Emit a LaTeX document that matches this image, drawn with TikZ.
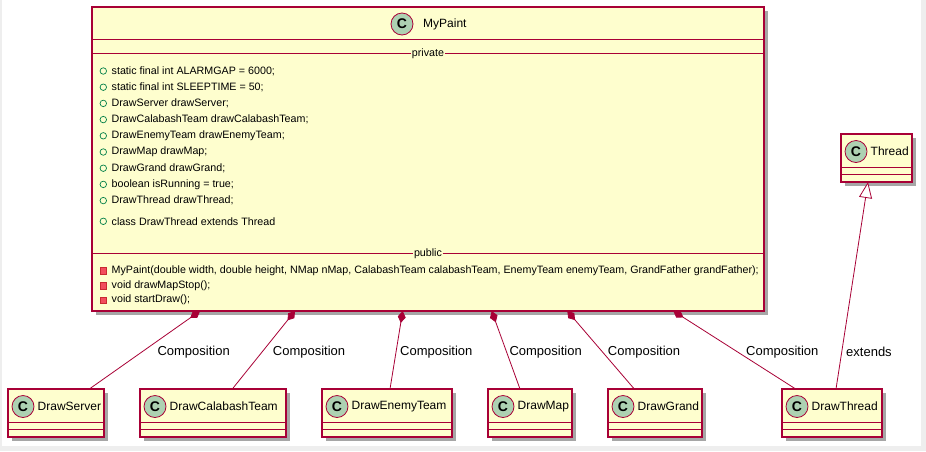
\documentclass[tikz,border=0pt]{standalone}
\usepackage{fontspec}
\setmainfont{Liberation Sans}
\usetikzlibrary{arrows.meta,calc,shadows}
\definecolor{umlfill}{HTML}{FEFECE}
\definecolor{umlborder}{HTML}{A80036}
\definecolor{circfill}{HTML}{ADD1B2}
\definecolor{attrgreen}{HTML}{038048}
\definecolor{methred}{HTML}{F24D5C}
\definecolor{methborder}{HTML}{C82930}
\definecolor{framegray}{HTML}{EEEEEE}

\tikzset{
 cls/.style={draw=umlborder, fill=umlfill, line width=1.2pt, inner sep=0pt, outer sep=0pt,
   drop shadow={shadow xshift=3.5pt, shadow yshift=-3.5pt, opacity=0.35, fill=black}},
 sep/.style={draw=umlborder, line width=1pt},
 cbadge/.style={circle, draw=umlborder, fill=circfill, line width=0.8pt, minimum size=22pt,
   inner sep=0pt, font=\fontsize{14}{14}\selectfont\bfseries},
 ctitle/.style={anchor=west, inner sep=0pt, font=\fontsize{12}{14}\selectfont},
 member/.style={anchor=west, inner sep=0pt, font=\fontsize{10.7}{12}\selectfont},
 attrmark/.style={circle, draw=attrgreen, line width=0.7pt, minimum size=6.5pt, inner sep=0pt},
 methmark/.style={rectangle, draw=methborder, fill=methred, line width=0.5pt, minimum size=6.5pt, inner sep=0pt},
 seplabel/.style={inner sep=0.5pt, font=\fontsize{10.7}{12}\selectfont},
 comp/.style={draw=umlborder, line width=0.8pt, {Diamond[length=12pt,width=8pt,fill=umlborder]}-},
 ext/.style={draw=umlborder, line width=0.8pt, -{Triangle[open, length=16pt, width=13pt, fill=white]}},
 lbl/.style={anchor=west, inner sep=0pt, font=\fontsize{13}{15}\selectfont},
}

\newcommand\umlclass[5]{%
  \node[cls, minimum width={#3-#2}, minimum height=48] (#1) at ({(#2+#3)/2},{#4+24}) {};
  \node[cbadge] (#1-c) at ({#2+15},{#4+17.5}) {C};
  \node[ctitle] (#1-t) at ({#2+29.5},{#4+17.5}) {#5};
  \draw[sep] ($(#1.north west)+(0,33.5)$) -- ($(#1.north east)+(0,33.5)$);
  \draw[sep] ($(#1.north west)+(0,40)$) -- ($(#1.north east)+(0,40)$);
}

\begin{document}
\begin{tikzpicture}[x=1pt,y=-1pt]
\useasboundingbox (0,0) rectangle (926,451);
\fill[framegray] (0,0) rectangle (926,451);
\fill[white] (2,0) rectangle (921,446);

% MyPaint
\node[cls, minimum width=672, minimum height=304] (mp) at (428,159) {};
\node[cbadge] (mp-c) at (402,24) {C};
\node[ctitle] (mp-t) at (423,24) {MyPaint};
\draw[sep] ($(mp.north west)+(0,32)$) -- ($(mp.north east)+(0,32)$);
\node[seplabel] (priv) at (428,54) {private};
\draw[sep] (mp.west |- 0,53.3) -- (priv.west |- 0,53.3);
\draw[sep] (priv.east |- 0,53.3) -- (mp.east |- 0,53.3);

\foreach \t [count=\i from 0] in {
  static final int ALARMGAP = 6000;,
  static final int SLEEPTIME = 50;,
  DrawServer drawServer;,
  DrawCalabashTeam drawCalabashTeam;,
  DrawEnemyTeam drawEnemyTeam;,
  DrawMap drawMap;,
  DrawGrand drawGrand;,
  boolean isRunning = true;,
  DrawThread drawThread;}{
  \node[attrmark] (am\i) at (103.3,{71+16.2*\i}) {};
  \node[member] (at\i) at (111.5,{71+16.2*\i}) {\t};
}
\node[attrmark] (am9) at (103.3,221.3) {};
\node[member] (at9) at (111.5,221.3) {class DrawThread extends Thread};

\node[seplabel] (pub) at (428,254) {public};
\draw[sep] (mp.west |- 0,253.3) -- (pub.west |- 0,253.3);
\draw[sep] (pub.east |- 0,253.3) -- (mp.east |- 0,253.3);

\node[methmark] (mm0) at (103.3,270.7) {};
\node[member] (me0) at (111.5,270.7) {MyPaint(double width, double height, NMap nMap, CalabashTeam calabashTeam, EnemyTeam enemyTeam, GrandFather grandFather);};
\node[methmark] (mm1) at (103.3,285.5) {};
\node[member] (me1) at (111.5,285.5) {void drawMapStop();};
\node[methmark] (mm2) at (103.3,300) {};
\node[member] (me2) at (111.5,300) {void startDraw();};

% small classes
\umlclass{ds}{8}{104}{389}{DrawServer}
\umlclass{dc}{140}{286}{389}{DrawCalabashTeam}
\umlclass{de}{322}{452}{389}{DrawEnemyTeam}
\umlclass{dm}{488}{572}{389}{DrawMap}
\umlclass{dg}{608}{702}{389}{DrawGrand}
\umlclass{dt}{782}{882}{389}{DrawThread}
\umlclass{th}{841}{912}{134}{Thread}

% connectors
\draw[comp] ($(mp.south west)+(108,0)$) -- ($(ds.north west)+(81.3,0)$);
\draw[comp] ($(mp.south west)+(203,0)$) -- ($(dc.north west)+(92.3,0)$);
\draw[comp] ($(mp.south west)+(310.7,0)$) -- ($(de.north west)+(68,0)$);
\draw[comp] ($(mp.south west)+(399.7,0)$) -- ($(dm.north west)+(32,0)$);
\draw[comp] ($(mp.south west)+(475.3,0)$) -- ($(dg.north west)+(26.3,0)$);
\draw[comp] ($(mp.south west)+(581.3,0)$) -- ($(dt.north west)+(13.7,0)$);
\draw[ext] ($(dt.north west)+(54,0)$) -- ($(th.south west)+(27,0)$);

% labels
\node[lbl] (l1) at (157.3,351.7) {Composition};
\node[lbl] (l2) at (272.7,351.7) {Composition};
\node[lbl] (l3) at (400,351.7) {Composition};
\node[lbl] (l4) at (509.3,351.7) {Composition};
\node[lbl] (l5) at (607.7,351.7) {Composition};
\node[lbl] (l6) at (746,351.7) {Composition};
\node[lbl] (l7) at (846,351.7) {extends};
\end{tikzpicture}
\end{document}
